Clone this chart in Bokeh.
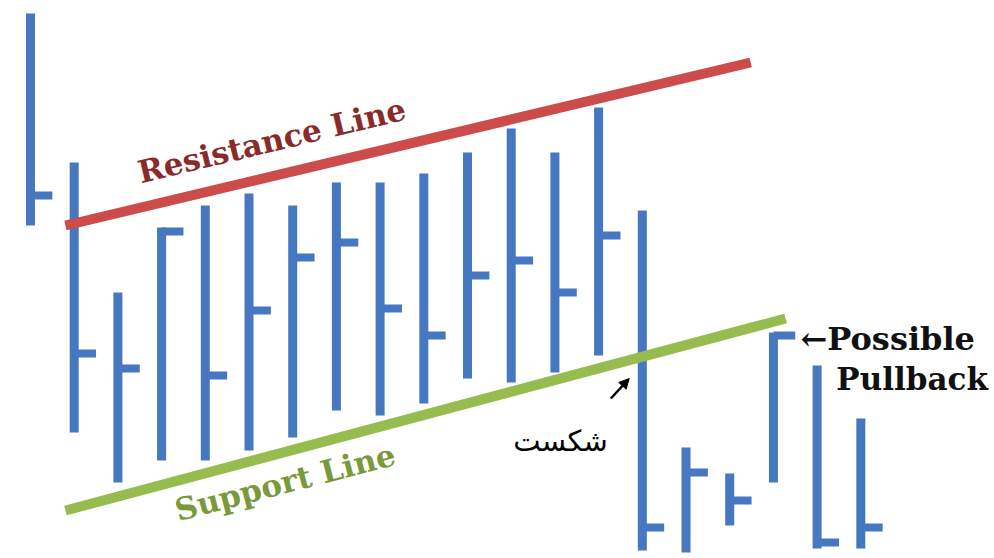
from bokeh.plotting import figure
from bokeh.models import Range1d, Arrow, NormalHead, ColumnDataSource
from bokeh.core.properties import value
from bokeh.embed import file_html
from bokeh.resources import INLINE
import math

# ---- data (bar index, price units) ----
bar_index = list(range(20))
highs  = [53.7, 38.8, 25.8, 32.3, 34.5, 35.7, 34.5, 36.8, 36.8, 37.7, 39.8, 42.2, 39.8, 44.3, 34.0, 10.3, 7.7, 21.8, 18.5, 13.2]
lows   = [32.5, 11.8, 6.8, 9.0, 9.0, 10.0, 11.3, 14.0, 13.5, 14.7, 17.2, 16.8, 17.8, 19.5, 0.0, -0.2, 2.5, 6.8, 0.2, 0.2]
closes = [35.5, 19.7, 18.2, 31.9, 17.5, 24.0, 29.3, 30.8, 24.2, 21.5, 27.5, 29.0, 25.8, 31.5, 2.3, 7.8, 5.0, 21.5, 0.8, 2.3]

resistance_x = [0.80, 16.48]
resistance_y = [32.5, 48.8]
support_x = [0.80, 17.28]
support_y = [4.0, 23.2]

labels = {
    "resistance": "Resistance Line",
    "support": "Support Line",
    "breakout": "شکست",
    "pullback1": "←Possible",
    "pullback2": "Pullback",
}

BLUE = "#4677c1"
TICK_LEN = 0.5

src = ColumnDataSource(dict(
    x=bar_index, high=highs, low=lows, close=closes,
    xt=[i + TICK_LEN for i in bar_index],
))

p = figure(width=994, height=558, output_backend="svg", toolbar_location=None,
           x_range=Range1d(-0.6865, 22.059), y_range=Range1d(-0.8, 55.0),
           min_border=0, background_fill_color="white", border_fill_color="white")
p.axis.visible = False
p.xgrid.visible = False
p.ygrid.visible = False
p.outline_line_color = None

# OHLC bars (high-low) and close ticks
p.segment(x0="x", y0="low", x1="x", y1="high", source=src,
          line_width=9, line_color=BLUE, line_cap="butt")
p.segment(x0="x", y0="close", x1="xt", y1="close", source=src,
          line_width=8, line_color=BLUE, line_cap="butt")

# trend lines
p.line(resistance_x, resistance_y, line_width=10, line_color="#cc4b4b", line_cap="butt")
p.line(support_x, support_y, line_width=10, line_color="#96bc50", line_cap="butt")

# labels
p.text(x=[2.47], y=[37.8], text=[labels["resistance"]], angle=math.radians(13.5),
       text_font=value("DejaVu Serif"), text_font_style="bold", text_font_size="31px",
       text_color="#8b2a2a", text_align="left", text_baseline="alphabetic")
p.text(x=[3.32], y=[4.0], text=[labels["support"]], angle=math.radians(14.5),
       text_font=value("DejaVu Serif"), text_font_style="bold", text_font_size="31px",
       text_color="#7a9a3a", text_align="left", text_baseline="alphabetic")
p.text(x=[12.13], y=[11.0], text=[labels["breakout"]],
       text_font=value("DejaVu Sans"), text_font_size="29px",
       text_color="black", text_align="center", text_baseline="alphabetic")
p.text(x=[17.62], y=[21.2], text=[labels["pullback1"]],
       text_font=value("DejaVu Serif"), text_font_style="bold", text_font_size="32px",
       text_color="#111111", text_align="left", text_baseline="alphabetic")
p.text(x=[18.44], y=[17.2], text=[labels["pullback2"]],
       text_font=value("DejaVu Serif"), text_font_style="bold", text_font_size="31px",
       text_color="#111111", text_align="left", text_baseline="alphabetic")

p.add_layout(Arrow(x_start=13.28, y_start=15.2, x_end=13.70, y_end=17.2,
                   line_width=2.5, line_color="black",
                   end=NormalHead(size=10, fill_color="black", line_color="black")))

open("out.html", "w").write(file_html(p, INLINE))
